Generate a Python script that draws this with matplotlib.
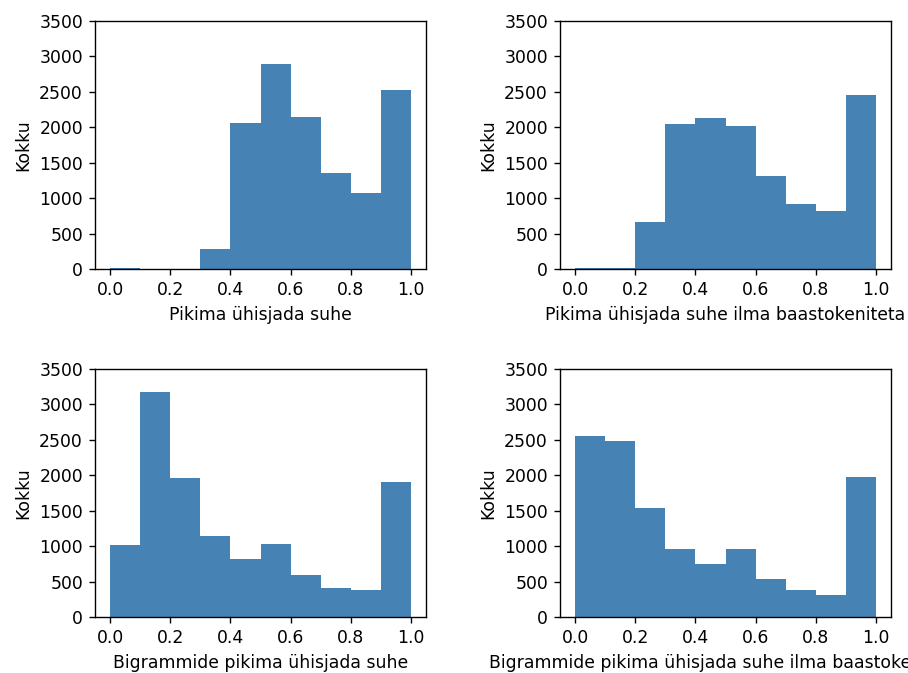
import matplotlib
matplotlib.use("Agg")
import matplotlib.pyplot as plt

# bin edges shared by all four histograms
bin_edges = [0.0, 0.1, 0.2, 0.3, 0.4, 0.5, 0.6, 0.7, 0.8, 0.9, 1.0]

lcs_counts = [20, 0, 0, 280, 2055, 2890, 2145, 1360, 1070, 2520]
lcs_no_base_counts = [20, 20, 660, 2040, 2125, 2015, 1315, 920, 815, 2450]
bigram_counts = [1015, 3180, 1960, 1145, 815, 1035, 590, 415, 385, 1905]
bigram_no_base_counts = [2560, 2480, 1535, 965, 745, 965, 530, 380, 310, 1975]

x_labels = [
    "Pikima ühisjada suhe",
    "Pikima ühisjada suhe ilma baastokeniteta",
    "Bigrammide pikima ühisjada suhe",
    "Bigrammide pikima ühisjada suhe ilma baastokeniteta",
]
y_label = "Kokku"
y_ticks = [0, 500, 1000, 1500, 2000, 2500, 3000, 3500]

W, H = 908, 673
DPI = 124
fig = plt.figure(figsize=(W / DPI, H / DPI), dpi=DPI)

# axes boxes in pixels: left, right, top, bottom
boxes = [
    (95, 426, 21, 269),
    (560, 891, 21, 269),
    (95, 426, 369, 617),
    (560, 891, 369, 617),
]
all_counts = [lcs_counts, lcs_no_base_counts, bigram_counts, bigram_no_base_counts]

for (l, r, t, b), counts, xl in zip(boxes, all_counts, x_labels):
    ax = fig.add_axes([l / W, 1 - b / H, (r - l) / W, (b - t) / H])
    ax.bar(bin_edges[:-1], counts, width=0.1, align="edge", color="steelblue")
    ax.set_xlim(-0.05, 1.05)
    ax.set_ylim(0, 3500)
    ax.set_yticks(y_ticks)
    ax.set_xticks([0.0, 0.2, 0.4, 0.6, 0.8, 1.0])
    ax.set_xlabel(xl)
    ax.set_ylabel(y_label)

fig.savefig("out.png", dpi=DPI)
